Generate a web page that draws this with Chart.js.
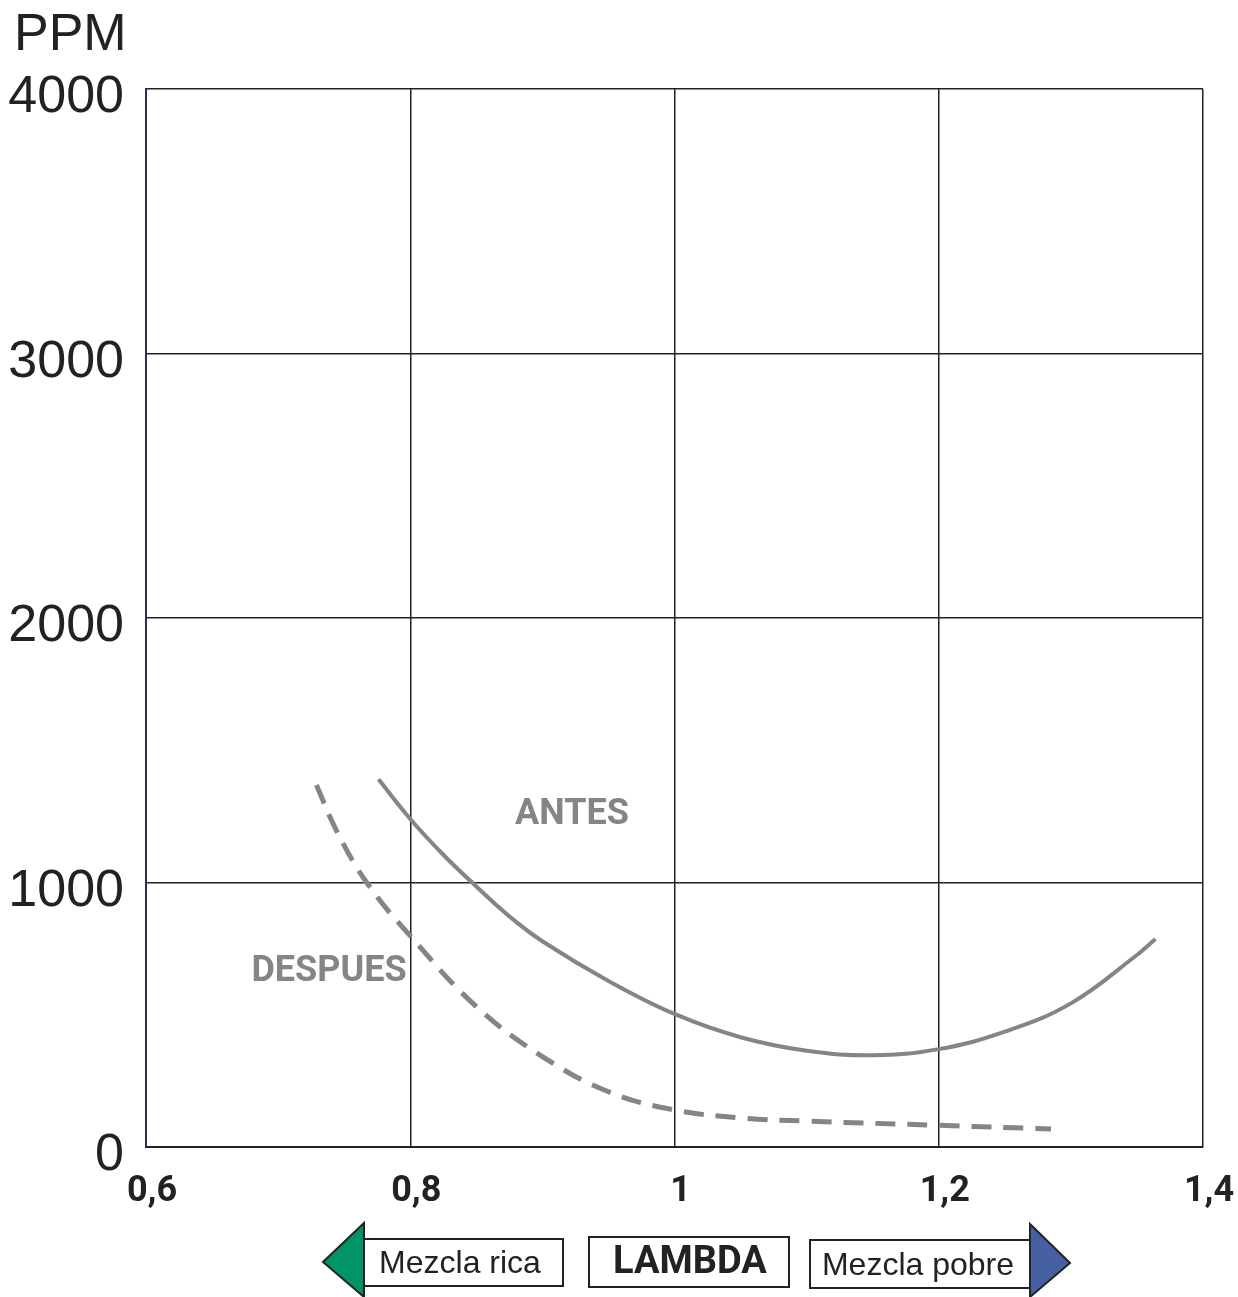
<!DOCTYPE html>
<html>
<head>
<meta charset="utf-8">
<script src="https://cdn.jsdelivr.net/npm/chart.js@4/dist/chart.umd.min.js"></script>
<style>
  html, body { margin: 0; padding: 0; background: #fff; }
  #wrap { width: 1238px; height: 1297px; position: relative; }
</style>
</head>
<body>
<div id="wrap"><canvas id="chart"></canvas></div>
<script>
// values
const antesX = [0.776, 0.8, 0.825, 0.85, 0.875, 0.9, 0.95, 1.0, 1.05, 1.1, 1.15, 1.2, 1.25, 1.3, 1.35, 1.364];
const antesY = [1390, 1240, 1105, 985, 872, 778, 628, 503, 415, 364, 347, 370, 436, 543, 726, 786];
const despuesX = [0.729, 0.744, 0.767, 0.8, 0.85, 0.9, 0.95, 1.0, 1.05, 1.1, 1.2, 1.285];
const despuesY = [1369, 1198, 1000, 798, 531, 342, 209, 140, 110, 98, 82, 68];
const xTicks = [0.6, 0.8, 1.0, 1.2, 1.4];
const yTicks = [0, 1000, 2000, 3000, 4000];
const labels = [
  { text: 'ANTES', x: 0.9224, y: 1255 },
  { text: 'DESPUES', x: 0.7385, y: 662 }
];

const toPoints = (xs, ys) => xs.map((x, i) => ({ x: x, y: ys[i] }));

// PPM title, curve labels and the lambda arrows under the axis
const decorations = {
  id: 'decorations',
  afterDatasetsDraw(chart) {
    const ctx = chart.ctx;
    const { x, y } = chart.scales;
    ctx.save();

    ctx.fillStyle = '#222';
    ctx.font = '52px "Liberation Sans", Arial, sans-serif';
    ctx.textAlign = 'left';
    ctx.textBaseline = 'alphabetic';
    ctx.fillText('PPM', 14, 50);

    ctx.fillStyle = '#858585';
    ctx.font = 'bold 36px Roboto, "Liberation Sans", sans-serif';
    ctx.textAlign = 'center';
    ctx.textBaseline = 'middle';
    labels.forEach(l => {
      ctx.fillText(l.text, x.getPixelForValue(l.x), y.getPixelForValue(l.y));
    });

    // left arrow (rich mixture)
    ctx.lineWidth = 2;
    ctx.strokeStyle = '#222';
    ctx.fillStyle = '#009467';
    ctx.beginPath();
    ctx.moveTo(364, 1223);
    ctx.lineTo(323, 1262);
    ctx.lineTo(364, 1297);
    ctx.closePath();
    ctx.fill();
    ctx.stroke();
    ctx.strokeRect(364, 1239, 199, 47);

    // centre box
    ctx.strokeRect(589, 1237, 200, 50);

    // right arrow (lean mixture)
    ctx.strokeRect(810, 1240, 220, 48);
    ctx.fillStyle = '#4760a2';
    ctx.beginPath();
    ctx.moveTo(1030, 1224);
    ctx.lineTo(1070, 1263);
    ctx.lineTo(1030, 1297);
    ctx.closePath();
    ctx.fill();
    ctx.stroke();

    ctx.fillStyle = '#222';
    ctx.textBaseline = 'middle';
    ctx.font = '32px "Liberation Sans", Arial, sans-serif';
    ctx.textAlign = 'center';
    ctx.fillText('Mezcla rica', 460, 1264);
    ctx.fillText('Mezcla pobre', 918, 1266);
    ctx.font = 'bold 38px Roboto, "Liberation Sans", sans-serif';
    ctx.fillText('LAMBDA', 690, 1263);

    ctx.restore();
  }
};

new Chart(document.getElementById('chart'), {
  type: 'scatter',
  data: {
    datasets: [
      {
        label: 'ANTES',
        data: toPoints(antesX, antesY),
        showLine: true,
        borderColor: '#858585',
        borderWidth: 4,
        pointRadius: 0,
        tension: 0.4
      },
      {
        label: 'DESPUES',
        data: toPoints(despuesX, despuesY),
        showLine: true,
        borderColor: '#858585',
        borderWidth: 5,
        borderDash: [20, 12],
        pointRadius: 0,
        tension: 0.4
      }
    ]
  },
  options: {
    responsive: true,
    maintainAspectRatio: false,
    animation: false,
    layout: { padding: { top: 89, right: 35, left: 0, bottom: 0 } },
    plugins: {
      legend: { display: false },
      tooltip: { enabled: false }
    },
    scales: {
      x: {
        type: 'linear',
        min: 0.6,
        max: 1.4,
        afterBuildTicks: axis => { axis.ticks = xTicks.map(v => ({ value: v })); },
        afterFit: axis => {
          axis.height = 150;
          axis.paddingLeft = 0;
          axis.paddingRight = 0;
        },
        grid: { color: '#222', lineWidth: 1.5, drawTicks: false },
        border: { color: '#222', width: 2 },
        ticks: {
          padding: 23,
          labelOffset: 6,
          color: '#222',
          font: { family: 'Roboto, "Liberation Sans", sans-serif', size: 36, weight: 'bold' },
          callback: v => String(v).replace('.', ',')
        }
      },
      y: {
        min: 0,
        max: 4000,
        afterBuildTicks: axis => { axis.ticks = yTicks.map(v => ({ value: v })); },
        afterFit: axis => {
          axis.width = 146;
          axis.paddingTop = 0;
          axis.paddingBottom = 0;
        },
        grid: { color: '#222', lineWidth: 1.5, drawTicks: false },
        border: { color: '#2a2a55', width: 2 },
        ticks: {
          padding: 22,
          labelOffset: 9,
          color: '#222',
          font: { family: '"Liberation Sans", Arial, sans-serif', size: 52 },
          callback: v => String(v)
        }
      }
    }
  },
  plugins: [decorations]
});
</script>
</body>
</html>
